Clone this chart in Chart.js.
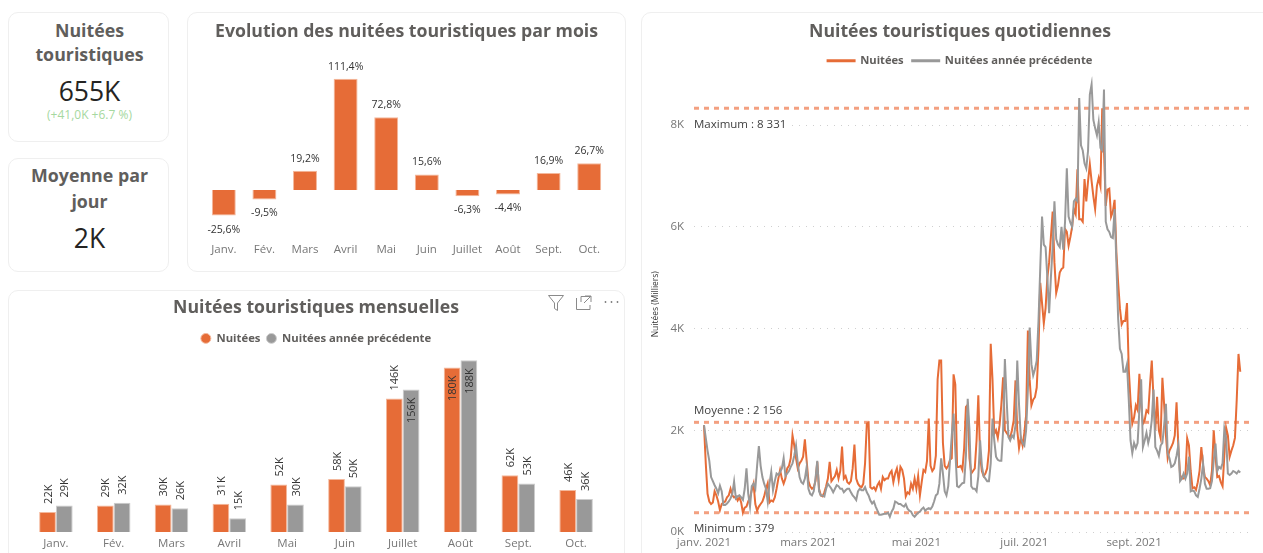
<!DOCTYPE html>
<html lang="fr">
<head>
<meta charset="utf-8">
<title>Nuitées touristiques</title>
<script src="https://cdn.jsdelivr.net/npm/chart.js@4/dist/chart.umd.min.js"></script>
<style>
html,body{margin:0;padding:0;background:#fff;width:1263px;height:553px;overflow:hidden;font-family:"Open Sans",sans-serif}
.card{position:absolute;box-sizing:border-box;border:1.5px solid #efefef;border-radius:10px;background:#fff}
.abs{position:absolute;left:2px;right:0;text-align:center;white-space:nowrap}
.head{font-weight:700;font-size:17.8px;color:#605E5C;line-height:24px}
.num{font-size:26.5px;color:#252423;line-height:32px}
.sub{font-size:12px;color:#A6D8A0;line-height:16px}
canvas{position:absolute}
svg{position:absolute}
</style>
</head>
<body>
<div class="card" style="left:8px;top:12px;width:161px;height:130px">
  <div class="abs head" style="top:5px">Nuitées</div>
  <div class="abs head" style="top:29px">touristiques</div>
  <div class="abs num" style="top:62px">655K</div>
  <div class="abs sub" style="top:94px">(+41,0K +6.7 %)</div>
</div>
<div class="card" style="left:8px;top:158px;width:161px;height:114px">
  <div class="abs head" style="top:4px">Moyenne par</div>
  <div class="abs head" style="top:30px">jour</div>
  <div class="abs num" style="top:63px">2K</div>
</div>
<div class="card" style="left:187px;top:12px;width:439px;height:260px"></div>
<div class="card" style="left:8px;top:290px;width:617px;height:280px"></div>
<div class="card" style="left:641px;top:12px;width:640px;height:560px"></div>
<canvas id="evol" width="438" height="259" style="left:187px;top:12px"></canvas>
<canvas id="mens" width="617" height="263" style="left:8px;top:290px"></canvas>
<canvas id="daily" width="636" height="541" style="left:642px;top:12px"></canvas>
<svg width="80" height="20" style="left:545px;top:293px" fill="none" stroke="#8a8a8a" stroke-width="1">
  <path d="M3.5 2.5H18.5L12.5 10V17.5L9.5 15.5V10Z"/>
  <path d="M37 9V3.5H46M32.5 5V16.5H46V12M41 3H47V9M47 3L40 10" transform="translate(-1 0)"/>
  <circle cx="60.5" cy="9" r=".9" fill="#7a7a7a" stroke="none"/><circle cx="66.5" cy="9" r=".9" fill="#7a7a7a" stroke="none"/><circle cx="72.5" cy="9" r=".9" fill="#7a7a7a" stroke="none"/>
</svg>
<script>
const months = ["Janv.","Fév.","Mars","Avril","Mai","Juin","Juillet","Août","Sept.","Oct."];
const evolution = [-25.6,-9.5,19.2,111.4,72.8,15.6,-6.3,-4.4,16.9,26.7];
const nuitees = [22,29,30,31,52,58,146,180,62,46];
const nuiteesPrec = [29,32,26,15,30,50,156,188,53,36];

const dailyCurrent = [
2.10,1.35,0.75,0.60,0.55,0.58,0.80,
0.72,0.60,0.43,0.55,0.58,0.60,0.68,
0.72,0.85,0.72,0.68,0.70,0.62,0.68,
0.58,0.38,0.48,0.50,0.60,0.68,0.82,
0.95,0.55,0.42,0.50,0.55,0.60,0.70,
0.85,0.96,0.58,0.62,0.60,0.68,0.85,
1.05,1.22,1.05,0.95,1.05,1.25,1.30,
1.45,1.90,1.70,1.45,1.25,1.35,1.40,
1.48,1.82,1.40,1.00,0.90,0.85,0.88,
1.00,1.38,0.85,0.72,0.70,0.78,0.90,
1.05,1.38,1.00,1.05,1.10,1.22,1.05,
1.20,1.68,1.05,1.10,0.98,0.95,1.00,
1.25,1.72,1.05,0.95,0.90,0.88,0.95,
1.35,2.13,2.15,0.88,0.85,0.88,0.82,
0.92,0.98,0.85,1.08,1.02,1.05,1.05,
1.15,1.20,0.98,1.15,1.25,1.02,1.28,
1.22,1.05,0.70,0.78,0.75,0.95,0.85,
1.05,0.85,1.10,0.72,0.98,1.22,1.18,
1.40,2.23,1.30,1.20,1.25,1.50,3.00,
3.37,3.37,1.75,1.30,1.25,1.30,1.42,
1.45,3.10,2.90,1.28,1.28,1.30,1.22,
1.65,2.46,2.50,1.45,1.15,1.20,1.25,
1.80,2.69,1.50,1.20,1.10,1.15,1.25,
1.60,3.70,3.00,1.93,2.00,1.85,2.10,
2.50,3.04,2.00,1.95,1.90,1.85,2.00,
2.20,2.98,2.00,1.65,1.85,1.70,1.95,
2.30,3.96,3.00,2.49,2.60,2.65,2.84,
3.60,4.90,4.50,4.10,4.40,5.00,5.30,
5.80,6.30,5.30,4.70,4.85,5.10,5.17,
5.20,5.96,5.90,5.63,5.80,6.00,6.35,
6.25,7.13,6.15,6.15,6.10,6.94,6.50,
6.90,7.23,6.90,6.60,6.35,6.80,6.96,
6.80,8.33,7.50,6.41,6.73,6.75,6.20,
6.30,6.53,5.50,4.90,4.40,4.08,4.15,
4.15,4.50,3.20,2.58,2.13,2.25,2.49,
2.40,3.11,2.50,2.13,2.20,2.39,2.35,
2.90,3.37,2.60,2.00,2.66,2.00,1.85,
3.03,2.50,1.90,1.45,1.60,1.67,1.75,
1.90,2.55,1.70,1.12,1.05,1.05,1.10,
1.84,1.70,1.20,0.86,0.88,0.83,0.98,
1.20,1.67,1.30,1.08,1.05,1.00,0.92,
1.20,2.00,1.50,1.08,1.10,0.98,0.90,
1.50,2.05,1.90,1.48,1.60,1.70,1.85,
2.60,3.50,3.15];

const dailyPrevious = [
2.10,1.85,1.60,1.40,1.08,1.00,0.92,
0.85,0.76,0.91,0.80,0.53,0.53,0.56,
0.60,0.66,0.75,0.99,0.66,0.70,0.72,
0.68,0.63,0.85,1.25,0.75,0.50,0.90,
0.95,0.85,1.30,1.69,1.30,1.08,0.95,
0.85,0.60,0.95,1.18,0.82,1.00,1.15,
1.12,1.18,1.25,1.45,1.10,1.15,1.20,
1.28,1.35,1.50,1.70,1.35,1.08,0.98,
0.95,1.05,1.28,0.85,0.75,0.72,0.80,
1.05,1.40,0.80,0.72,0.72,0.70,0.85,
0.95,0.90,0.85,0.78,0.85,0.92,0.90,
0.85,0.85,0.78,0.82,0.85,0.85,0.78,
0.72,0.68,0.63,0.80,0.85,0.82,0.82,
0.88,0.78,0.72,0.62,0.56,0.60,0.50,
0.42,0.34,0.34,0.35,0.36,0.36,0.38,
0.30,0.40,0.46,0.60,0.58,0.55,0.55,
0.52,0.50,0.55,0.46,0.42,0.40,0.33,
0.30,0.34,0.38,0.40,0.45,0.48,0.42,
0.45,0.47,0.45,0.50,0.60,0.72,0.75,
0.95,1.45,1.15,0.80,0.72,0.90,1.40,
1.90,2.33,1.60,0.90,0.88,0.92,0.96,
0.97,1.50,2.62,2.00,0.90,0.85,0.85,
0.80,1.10,1.80,1.30,1.10,1.05,1.00,
1.00,1.35,2.23,1.80,1.48,1.42,1.40,
1.40,2.00,3.40,2.60,1.87,1.80,1.90,
1.85,2.10,3.37,2.50,1.85,1.75,1.70,
2.00,2.80,4.02,3.30,3.08,3.20,3.37,
4.15,5.20,6.20,5.65,5.60,5.00,4.30,
5.00,5.60,6.50,5.76,5.65,5.60,6.00,
5.55,6.10,7.15,6.20,6.08,6.00,6.50,
6.55,6.50,8.53,7.60,7.50,7.25,7.15,
7.50,8.60,8.80,8.10,7.94,7.80,8.05,
7.55,7.50,8.70,6.10,5.95,5.90,5.80,
5.78,6.35,5.30,4.20,3.60,3.50,3.15,
3.15,3.30,2.60,1.80,1.55,1.75,1.65,
1.75,2.40,3.00,1.67,1.80,1.95,1.75,
1.90,2.20,2.80,1.67,1.60,1.50,1.70,
1.75,2.10,2.52,1.55,1.45,1.28,1.30,
1.35,1.50,1.70,1.00,1.05,1.15,1.05,
1.15,1.48,0.80,0.82,0.80,0.72,0.69,
0.85,1.05,1.35,0.95,0.85,0.85,0.86,
1.00,1.40,1.74,1.20,1.28,1.25,1.35,
2.03,1.85,1.15,1.12,1.15,1.20,1.18,
1.15,1.20,1.17];

const monthTickDays = [0,59,120,181,243];
const monthTickLabels = ["janv. 2021","mars 2021","mai 2021","juil. 2021","sept. 2021"];
const yTicksK = [0,2,4,6,8];
const refValues = [8.331,2.156,0.379];
const refLabels = ["Maximum : 8 331","Moyenne : 2 156","Minimum : 379"];

const ORANGE="#E66C37", GREY="#999999", REF="#F3A080", TITLE="#605E5C", AXIS="#777777", LABEL="#333333";
const FF='"Open Sans", sans-serif';
Chart.defaults.font.family=FF;
Chart.defaults.animation=false;
Chart.defaults.responsive=false;

/* --- Évolution par mois --- */
new Chart(document.getElementById('evol'),{
  type:'bar',
  data:{labels:months,datasets:[{data:evolution,backgroundColor:ORANGE,borderColor:"#F4B89C",borderWidth:1,barPercentage:0.59,categoryPercentage:1}]},
  options:{
    layout:{padding:{left:16.5,right:15.5,top:0,bottom:0}},
    plugins:{legend:{display:false},tooltip:{enabled:false},
      title:{display:true,text:"Evolution des nuitées touristiques par mois",color:TITLE,font:{size:17.7,weight:'700'},padding:{top:9,bottom:17.8}}},
    scales:{
      x:{grid:{display:false,drawTicks:false},border:{display:false},ticks:{color:AXIS,font:{size:11.5},padding:3,maxRotation:0,autoSkip:false},afterFit:s=>{s.height=31}},
      y:{display:false,min:-50,max:130}
    }
  },
  plugins:[{id:'lbl',afterDatasetsDraw(c){
    const g=c.ctx;g.save();g.font='10.5px '+FF;g.fillStyle=LABEL;g.textAlign='center';g.textBaseline='middle';
    c.getDatasetMeta(0).data.forEach((b,i)=>{
      const v=evolution[i];
      g.fillText(String(v).replace('.',',')+'%',b.x,v<0?b.y+14:b.y-12);
    });
    g.restore();
  }}]
});

/* --- Nuitées mensuelles --- */
new Chart(document.getElementById('mens'),{
  type:'bar',
  data:{labels:months,datasets:[
    {label:"Nuitées",data:nuitees,backgroundColor:ORANGE,borderColor:"#F4B89C",borderWidth:1,barPercentage:1,categoryPercentage:0.58},
    {label:"Nuitées année précédente",data:nuiteesPrec,backgroundColor:GREY,borderColor:"#CCCCCC",borderWidth:1,barPercentage:1,categoryPercentage:0.58}
  ]},
  options:{
    layout:{padding:{left:19,right:20,top:0,bottom:0}},
    plugins:{tooltip:{enabled:false},
      title:{display:true,text:"Nuitées touristiques mensuelles",color:TITLE,font:{size:17.7,weight:'700'},padding:{top:7,bottom:8.5}},
      legend:{labels:{usePointStyle:true,pointStyle:'circle',pointStyleWidth:10,boxHeight:7,color:TITLE,font:{size:11.3,weight:'700'},padding:6}}},
    scales:{
      x:{grid:{display:false,drawTicks:false},border:{display:false},ticks:{color:AXIS,font:{size:11.5},padding:5,maxRotation:0,autoSkip:false},afterFit:s=>{s.height=21}},
      y:{display:false,min:0,max:194.7}
    }
  },
  plugins:[{id:'lbl',afterDatasetsDraw(c){
    const g=c.ctx;g.save();g.font='11px '+FF;g.fillStyle=LABEL;g.textBaseline='middle';
    [nuitees,nuiteesPrec].forEach((arr,d)=>{
      c.getDatasetMeta(d).data.forEach((b,i)=>{
        const inside=arr[i]>=150;
        g.save();g.translate(b.x+1,inside?b.y+8:b.y-8);g.rotate(-Math.PI/2);
        g.textAlign=inside?'right':'left';
        g.fillText(arr[i]+'K',0,0);g.restore();
      });
    });
    g.restore();
  }}]
});

/* --- Nuitées quotidiennes --- */
const xMin=-5.65,xMax=308.5;
const toXY=a=>a.map((y,x)=>({x,y}));
const refSets=refValues.map(v=>({label:'ref',data:[{x:xMin,y:v},{x:xMax,y:v}],borderColor:REF,backgroundColor:REF,borderWidth:3,borderDash:[5,5],pointRadius:0,order:2}));
new Chart(document.getElementById('daily'),{
  type:'line',
  data:{datasets:[
    {label:"Nuitées",data:toXY(dailyCurrent),borderColor:ORANGE,backgroundColor:ORANGE,borderWidth:2,pointRadius:0,tension:0,order:1},
    {label:"Nuitées année précédente",data:toXY(dailyPrevious),borderColor:GREY,backgroundColor:GREY,borderWidth:2,pointRadius:0,tension:0,order:0},
    ...refSets
  ]},
  options:{
    layout:{padding:{left:0,right:28,top:0,bottom:0}},
    plugins:{tooltip:{enabled:false},
      title:{display:true,text:"Nuitées touristiques quotidiennes",color:TITLE,font:{size:17.7,weight:'700'},padding:{top:9,bottom:4.5}},
      legend:{labels:{boxWidth:27,boxHeight:1,color:TITLE,font:{size:11.2,weight:'700'},padding:8.5,filter:i=>i.datasetIndex<2,sort:(a,b)=>a.datasetIndex-b.datasetIndex}}},
    scales:{
      x:{type:'linear',min:xMin,max:xMax,grid:{display:false,drawTicks:false},border:{display:false},
        afterBuildTicks:s=>{s.ticks=monthTickDays.map(value=>({value}))},
        ticks:{color:AXIS,font:{size:11.5},padding:4,maxRotation:0,autoSkip:false,callback:v=>monthTickLabels[monthTickDays.indexOf(v)]},
        afterFit:s=>{s.height=21}},
      y:{min:0,max:8.956,
        afterBuildTicks:s=>{s.ticks=yTicksK.map(value=>({value}))},
        grid:{color:"#cfcfcf",lineWidth:1,drawTicks:false},
        border:{display:false,dash:[1,6]},
        ticks:{color:AXIS,font:{size:11.5},padding:10,callback:v=>v+'K'},
        title:{display:true,text:"Nuitées (Milliers)",color:LABEL,font:{size:8.5},padding:{top:8,bottom:0}},
        afterFit:s=>{s.width=52}}
    }
  },
  plugins:[{id:'centerHeader',afterLayout(c){
    /* the visual's header is centred on the card, which runs past the plot's right edge */
    [c.titleBlock,c.legend].forEach(b=>{b.left+=14;b.right+=14;});
  }},{id:'refLabels',afterDraw(c){
    const g=c.ctx,y=c.scales.y,x0=c.chartArea.left;g.save();g.font='11.5px '+FF;g.textBaseline='middle';g.textAlign='left';
    const off=[16,-12,16];
    refValues.forEach((v,i)=>{
      const w=g.measureText(refLabels[i]).width,cy=y.getPixelForValue(v)+off[i];
      g.fillStyle='#fff';g.fillRect(x0-1,cy-7,w+6,14);
      g.fillStyle='#404040';g.fillText(refLabels[i],x0,cy);
    });
    g.restore();
  }}]
});
</script>
</body>
</html>
